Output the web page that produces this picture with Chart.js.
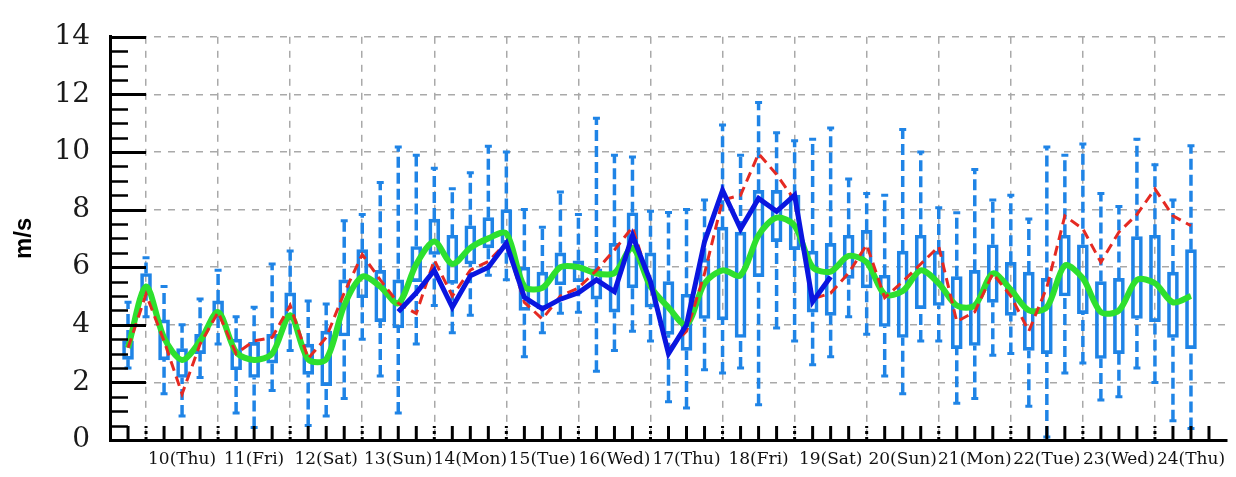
<!DOCTYPE html>
<html>
<head>
<meta charset="utf-8">
<title>Wind speed ensemble forecast</title>
<script src="https://cdn.jsdelivr.net/npm/chart.js@4.4.1/dist/chart.umd.min.js"></script>
<style>
  html, body { margin: 0; padding: 0; background: #fff; }
</style>
</head>
<body>
<canvas id="windChart" width="1236" height="477"></canvas>
<script>
// forecast times, day of month, every 6 hours
const times = [
  9.75, 10.0, 10.25, 10.5, 10.75, 11.0, 11.25, 11.5, 11.75, 12.0,
  12.25, 12.5, 12.75, 13.0, 13.25, 13.5, 13.75, 14.0, 14.25, 14.5,
  14.75, 15.0, 15.25, 15.5, 15.75, 16.0, 16.25, 16.5, 16.75, 17.0,
  17.25, 17.5, 17.75, 18.0, 18.25, 18.5, 18.75, 19.0, 19.25, 19.5,
  19.75, 20.0, 20.25, 20.5, 20.75, 21.0, 21.25, 21.5, 21.75, 22.0,
  22.25, 22.5, 22.75, 23.0, 23.25, 23.5, 23.75, 24.0, 24.25, 24.5
];

// day boundaries (dashed vertical grid) and the day labels between them
const gridDays = [10, 11, 12, 13, 14, 15, 16, 17, 18, 19, 20, 21, 22, 23, 24];
const labelDays = [10.5, 11.5, 12.5, 13.5, 14.5, 15.5, 16.5, 17.5, 18.5, 19.5, 20.5, 21.5, 22.5, 23.5, 24.5];
const dayLabels = ['10(Thu)', '11(Fri)', '12(Sat)', '13(Sun)', '14(Mon)', '15(Tue)', '16(Wed)',
  '17(Thu)', '18(Fri)', '19(Sat)', '20(Sun)', '21(Mon)', '22(Tue)', '23(Wed)', '24(Thu)'];

// ensemble spread (m/s)
const whiskerLow = [
  2.5, 4.28, 1.61, 0.83, 2.17, 3.33, 0.94, 0.43, 1.72, 3.11,
  0.5, 0.83, 1.44, 3.5, 2.22, 0.94, 3.33, 4.67, 3.72, 4.33,
  5.72, 5.56, 2.89, 3.72, 4.4, 4.44, 2.39, 3.11, 3.78, 3.44,
  1.33, 1.11, 2.44, 2.33, 2.5, 1.22, 3.89, 3.44, 2.61, 2.89,
  4.28, 3.67, 2.22, 1.61, 3.44, 3.44, 1.28, 1.44, 2.94, 3.0,
  1.17, 0.1, 2.33, 2.67, 1.39, 1.5, 2.5, 2.0, 0.67, 0.4
];
const boxLow = [
  2.8, 5.06, 2.78, 2.17, 3.0, 4.22, 2.44, 2.17, 2.67, 4.17,
  2.28, 1.89, 3.61, 4.94, 4.11, 3.89, 5.5, 6.44, 5.44, 6.11,
  6.67, 6.83, 4.5, 4.56, 5.39, 5.5, 4.89, 4.44, 5.28, 4.61,
  3.67, 3.11, 4.22, 4.17, 3.56, 5.67, 6.89, 6.61, 4.44, 4.33,
  5.61, 5.28, 3.94, 3.56, 4.56, 4.67, 3.17, 3.28, 4.78, 4.33,
  3.11, 3.0, 5.0, 4.39, 2.83, 3.0, 4.22, 4.11, 3.56, 3.17
];
const boxHigh = [
  3.44, 5.78, 4.17, 3.17, 3.67, 4.83, 3.5, 3.39, 3.67, 5.11,
  3.33, 3.78, 5.56, 6.61, 5.89, 5.56, 6.72, 7.67, 7.11, 7.44,
  7.72, 8.0, 6.0, 5.83, 6.5, 6.22, 5.94, 6.83, 7.89, 6.5,
  5.5, 5.06, 6.28, 7.39, 7.22, 8.67, 8.67, 8.5, 6.56, 6.83,
  7.11, 7.28, 5.72, 6.56, 7.11, 6.56, 5.67, 5.89, 6.78, 6.17,
  5.83, 5.61, 7.11, 6.78, 5.5, 5.61, 7.06, 7.11, 5.83, 6.61
];
const whiskerHigh = [
  4.78, 6.33, 5.33, 4.0, 4.9, 5.89, 4.28, 4.61, 6.11, 6.56,
  4.83, 4.72, 7.61, 7.83, 8.94, 10.17, 9.89, 9.44, 8.72, 9.28,
  10.2, 10.0, 8.0, 7.39, 8.61, 7.83, 11.17, 9.89, 9.83, 7.94,
  7.9, 8.0, 8.33, 10.94, 9.89, 11.72, 10.67, 10.39, 10.44, 10.83,
  9.06, 8.56, 8.5, 10.78, 10.0, 8.06, 7.89, 9.39, 8.33, 8.5,
  7.67, 10.17, 9.89, 10.28, 8.56, 8.11, 10.44, 9.56, 8.33, 10.22
];

// ensemble mean (green)
const ensMean = [
  3.2, 5.33, 3.55, 2.78, 3.44, 4.44, 3.05, 2.78, 3.0, 4.33,
  2.8, 2.8, 4.67, 5.67, 5.33, 4.75, 6.1, 6.89, 6.11, 6.67,
  7.0, 7.17, 5.33, 5.28, 6.0, 6.0, 5.78, 5.8, 6.67, 5.33,
  4.6, 4.0, 5.44, 5.89, 5.72, 7.11, 7.72, 7.44, 6.0, 5.85,
  6.39, 6.17, 5.06, 5.17, 5.89, 5.44, 4.67, 4.67, 5.78, 5.22,
  4.5, 4.61, 6.06, 5.61, 4.44, 4.5, 5.56, 5.44, 4.78, 5.0
];
// deterministic forecast (red dashed)
const forecast = [
  3.2, 5.06, 3.44, 1.6, 3.33, 4.44, 3.0, 3.44, 3.56, 4.67,
  2.83, 3.56, 5.11, 6.44, 5.56, 4.75, 4.39, 6.25, 5.0, 5.9,
  6.2, 6.85, 4.78, 4.2, 5.0, 5.28, 5.89, 6.6, 7.39, 5.4,
  3.15, 3.78, 5.78, 8.33, 8.5, 9.94, 9.22, 8.33, 4.9, 5.1,
  5.8, 6.78, 4.94, 5.5, 6.11, 6.72, 4.11, 4.45, 5.78, 5.0,
  3.78, 5.3, 7.78, 7.33, 6.17, 7.22, 7.83, 8.72, 7.78, 7.44
];
// observed (blue solid)
const observed = [
  null, null, null, null, null, null, null, null, null, null,
  null, null, null, null, null, 4.45, 5.11, 5.89, 4.61, 5.7,
  6.0, 6.83, 4.95, 4.55, 4.89, 5.11, 5.56, 5.15, 7.1, 5.5,
  3.0, 4.0, 6.89, 8.67, 7.33, 8.39, 7.94, 8.5, 4.8, 5.67,
  null, null, null, null, null, null, null, null, null, null,
  null, null, null, null, null, null, null, null, null, null
];

const boxBlue = '#1f84e6';
const gridGrey = '#a9a9a9';

// whiskers: low end -> box bottom, box top -> high end, broken by nulls
const whiskerPoints = [];
times.forEach((t, i) => {
  whiskerPoints.push({ x: t, y: whiskerLow[i], cap: true });
  whiskerPoints.push({ x: t, y: boxLow[i] });
  whiskerPoints.push({ x: t, y: null });
  whiskerPoints.push({ x: t, y: boxHigh[i] });
  whiskerPoints.push({ x: t, y: whiskerHigh[i], cap: true });
  whiskerPoints.push({ x: t, y: null });
});

const toPoints = arr => times.map((t, i) => ({ x: t, y: arr[i] }));

// inward tick marks on both axes
const axisTicks = {
  id: 'axisTicks',
  afterDraw(chart) {
    const { ctx, chartArea, scales: { x, y } } = chart;
    ctx.save();
    ctx.strokeStyle = '#000';
    for (let v = 0.5; v <= 14; v += 0.5) {
      const py = Math.round(y.getPixelForValue(v)) + 0.5;
      const major = v % 2 === 0;
      ctx.lineWidth = major ? 3 : 2.5;
      ctx.beginPath();
      ctx.moveTo(chartArea.left, py);
      ctx.lineTo(chartArea.left + (major ? 36 : 18), py);
      ctx.stroke();
    }
    ctx.lineWidth = 3;
    for (let v = 9.75; v < 25; v += 0.25) {
      const px = x.getPixelForValue(v);
      ctx.setLineDash(Number.isInteger(v) ? [3, 3] : []);
      ctx.beginPath();
      ctx.moveTo(px, chartArea.bottom);
      ctx.lineTo(px, chartArea.bottom - 14);
      ctx.stroke();
    }
    ctx.restore();
  }
};

new Chart(document.getElementById('windChart'), {
  type: 'bar',
  data: {
    datasets: [
      {
        type: 'line',
        data: whiskerPoints,
        borderColor: boxBlue,
        borderWidth: 3.5,
        borderDash: [11, 5],
        spanGaps: false,
        pointStyle: 'line',
        pointRadius: c => (c.raw && c.raw.cap ? 3.5 : 0),
        pointBorderWidth: 3,
        pointBorderColor: boxBlue,
        order: 5
      },
      {
        type: 'bar',
        data: times.map((t, i) => ({ x: t, y: [boxLow[i], boxHigh[i]] })),
        backgroundColor: 'transparent',
        borderColor: boxBlue,
        borderWidth: 3,
        borderSkipped: false,
        barThickness: 11,
        order: 4
      },
      {
        type: 'line',
        data: toPoints(ensMean),
        borderColor: '#2ee02e',
        borderWidth: 6,
        tension: 0.3,
        pointRadius: 0,
        order: 3
      },
      {
        type: 'line',
        data: toPoints(forecast),
        borderColor: '#e52a22',
        borderWidth: 3,
        borderDash: [10, 6],
        pointRadius: 0,
        order: 2
      },
      {
        type: 'line',
        data: toPoints(observed),
        borderColor: '#0a16e0',
        borderWidth: 5,
        spanGaps: false,
        pointRadius: 0,
        order: 1
      }
    ]
  },
  options: {
    responsive: false,
    animation: false,
    events: [],
    layout: { padding: { left: 0, right: 4, top: 20, bottom: 0 } },
    plugins: { legend: { display: false }, tooltip: { enabled: false } },
    scales: {
      x: {
        type: 'linear',
        min: 9.5,
        max: 25,
        offset: false,
        afterFit: scale => { scale.height = 37; },
        afterBuildTicks: scale => {
          scale.ticks = [9.5, ...gridDays, ...labelDays, 25]
            .sort((a, b) => a - b)
            .map(v => ({ value: v }));
        },
        ticks: {
          autoSkip: false,
          maxRotation: 0,
          padding: 9,
          color: '#111',
          font: { family: 'DejaVu Serif', size: 17 },
          callback: v => {
            const k = labelDays.indexOf(v);
            return k >= 0 ? dayLabels[k] : '';
          }
        },
        grid: {
          offset: false,
          drawTicks: false,
          lineWidth: 1.5,
          color: c => (c.tick && Number.isInteger(c.tick.value) && c.tick.value >= 10 && c.tick.value <= 24 ? gridGrey : 'transparent')
        },
        border: { display: true, color: '#000', width: 3, dash: [7, 7] }
      },
      y: {
        min: 0,
        max: 14,
        afterFit: scale => { scale.width = 110; },
        ticks: {
          stepSize: 2,
          padding: 20,
          color: '#1a1a1a',
          font: { family: 'DejaVu Serif', size: 28 }
        },
        grid: {
          drawTicks: false,
          lineWidth: 1.5,
          color: c => (c.tick && c.tick.value > 0 ? gridGrey : 'transparent')
        },
        border: { display: true, color: '#000', width: 3, dash: [7, 7] },
        title: {
          display: true,
          text: 'm/s',
          color: '#000',
          padding: { top: 10, bottom: 0 },
          font: { family: 'Liberation Sans', size: 24, weight: 'bold' }
        }
      }
    }
  },
  plugins: [axisTicks]
});
</script>
</body>
</html>
